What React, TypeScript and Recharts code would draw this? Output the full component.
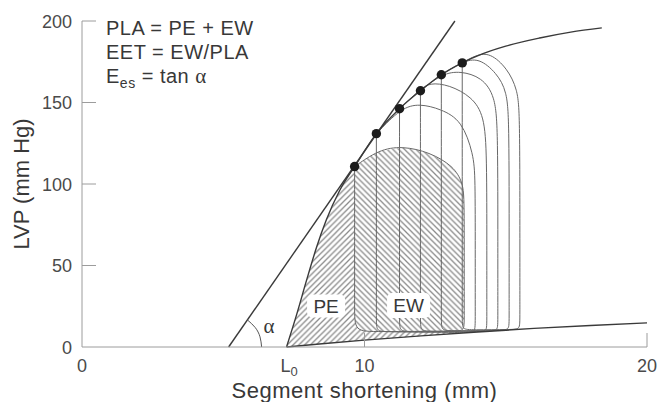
import React from 'react';
import { ComposedChart, Line, Area, Scatter, XAxis, YAxis, ReferenceDot } from 'recharts';

const SANS = '"Liberation Sans", Arial, Helvetica, sans-serif';
const SERIF = '"Liberation Serif", "Times New Roman", serif';
const AXIS_COLOR = '#9c9c9c';
const TICK_COLOR = '#4a4a4a';
const TEXT_COLOR = '#383838';
const CURVE_COLOR = '#3a3a3a';
const LOOP_COLOR = '#686868';
const HATCH_COLOR = '#8a8a8a';
const HATCH_STEP = 5.8;

// axis ticks
const L0 = 7.24;
const X_TICKS = [0, L0, 10, 20];
const Y_TICKS = [0, 50, 100, 150, 200];

// straight end-systolic line, slope = Ees
const ES_LINE_X = [5.19, 13.2];
const ES_LINE_Y = [0, 200];

// end-systolic pressure-length curve, starting at L0
const ES_CURVE_X = [7.24, 7.6, 7.95, 8.3, 8.65, 9.12, 9.65, 10.42, 11.24, 11.98, 12.72, 13.46, 14.17, 15.0, 16.2, 17.3, 18.4];
const ES_CURVE_Y = [0, 20, 41, 61, 78, 96, 110.7, 130.9, 146.2, 157.2, 167, 174.3, 179.8, 184.6, 189.6, 193.2, 195.8];

// end-diastolic pressure-length curve
const ED_CURVE_X = [7.24, 8.5, 10, 12, 14, 16, 18, 20];
const ED_CURVE_Y = [0, 2, 4.2, 6.8, 9.2, 11.4, 13.2, 14.8];

// end-systolic points of the six loops
const END_SYS_X = [9.65, 10.42, 11.24, 11.98, 12.72, 13.46];
const END_SYS_Y = [110.7, 130.9, 146.2, 157.2, 167, 174.3];

// pressure-length loops, traced from the end-systolic point:
// relaxation, filling, isovolumic contraction, ejection
const LOOP_1: [number, number][] = [
  [9.65, 110.7], [9.65, 60], [9.65, 22], [9.65, 9.6], [10.35, 9.4], [13.2, 9.7], [13.53, 9.9], [13.53, 16],
  [13.53, 60], [13.53, 92], [13.47, 101], [13.15, 111], [12.3, 119.5], [11.34, 123.3], [10.5, 121], [9.65, 110.7],
];
const LOOP_2: [number, number][] = [
  [10.42, 130.9], [10.42, 60], [10.42, 16], [10.42, 9.8], [10.75, 9.2], [13.62, 8.9], [13.92, 9.2], [13.92, 15],
  [13.92, 60], [13.92, 104], [13.86, 118], [13.45, 139], [12.7, 146], [11.95, 149.3], [11.3, 146.8], [10.42, 130.9],
];
const LOOP_3: [number, number][] = [
  [11.24, 146.2], [11.24, 60], [11.24, 16], [11.24, 9.8], [11.57, 9.3], [14.05, 9.4], [14.33, 9.6], [14.33, 15],
  [14.33, 60], [14.33, 118], [14.24, 142], [13.8, 153.5], [13.0, 160.8], [12.3, 162.2], [11.95, 157.8], [11.24, 146.2],
];
const LOOP_4: [number, number][] = [
  [11.98, 157.2], [11.98, 60], [11.98, 16], [11.98, 9.9], [12.31, 9.5], [14.44, 9.8], [14.72, 10.1], [14.72, 15.5],
  [14.72, 60], [14.72, 132], [14.63, 154], [14.15, 165.5], [13.4, 169.3], [12.75, 167.8], [11.98, 157.2],
];
const LOOP_5: [number, number][] = [
  [12.72, 167], [12.72, 60], [12.72, 16], [12.72, 10.2], [13.05, 9.9], [14.84, 10.3], [15.12, 10.6], [15.12, 16],
  [15.12, 60], [15.12, 138], [15.04, 157], [14.68, 168], [14.05, 177.5], [13.45, 175], [12.72, 167],
];
const LOOP_6: [number, number][] = [
  [13.46, 174.3], [13.46, 60], [13.46, 16], [13.46, 10.8], [13.79, 10.5], [15.22, 10.7], [15.5, 11], [15.5, 16.5],
  [15.5, 60], [15.5, 142], [15.42, 158], [15.05, 171], [14.45, 180.5], [13.95, 179.2], [13.46, 174.3],
];
const LOOPS = [LOOP_1, LOOP_2, LOOP_3, LOOP_4, LOOP_5, LOOP_6];

// EW: interior of the smallest loop (lower and upper bound)
const EW_X = [9.65, 9.665, 9.7, 9.77, 9.88, 10.06, 10.5, 10.71, 11.0, 11.36, 11.8, 12.28, 12.78, 13.06, 13.2, 13.35, 13.43, 13.475, 13.5, 13.52];
const EW_LOW = [26.3, 16.6, 13.6, 11.6, 10.4, 9.76, 9.55, 9.48, 9.48, 9.5, 9.55, 9.6, 9.68, 9.75, 9.9, 10.2, 10.6, 10.9, 12.5, 16];
const EW_HIGH = [110.7, 110.9, 111.3, 112.1, 113.4, 115.6, 119.7, 120.6, 121.5, 122.3, 121.2, 118.7, 114.3, 110.75, 108, 104, 101.2, 98.5, 94, 88.2];

// PE: between the end-diastolic curve and the end-systolic curve / relaxation edge
const PE_X = [7.24, 7.6, 7.95, 8.3, 8.65, 9.12, 9.65, 9.65, 9.665, 9.7, 9.77, 9.88, 10.06, 10.71, 12.78, 13.2, 13.4];
const PE_LOW = [0, 0.57, 1.13, 1.68, 2.22, 2.91, 3.69, 3.69, 3.71, 3.76, 3.85, 3.99, 4.23, 5.04, 7.73, 8.24, 8.48];
const PE_HIGH = [0, 20, 41, 61, 78, 96, 110.7, 26.3, 16.6, 13.6, 11.6, 10.4, 9.76, 9.48, 9.68, 9.9, 10.4];

// angle marker at the intercept of the straight line
const ARC_X = [5.86, 6.135, 6.301, 6.358];
const ARC_Y = [16.55, 11.87, 6.24, 0];

const toPoints = (xs: number[], ys: number[]) => xs.map((x, i) => ({ x, y: ys[i] }));
const toBand = (xs: number[], lo: number[], hi: number[]) => xs.map((x, i) => ({ x, band: [lo[i], hi[i]] }));
const pairsToPoints = (pts: [number, number][]) => pts.map(([x, y]) => ({ x, y }));

const esLine = toPoints(ES_LINE_X, ES_LINE_Y);
const esCurve = toPoints(ES_CURVE_X, ES_CURVE_Y);
const edCurve = toPoints(ED_CURVE_X, ED_CURVE_Y);
const endSys = toPoints(END_SYS_X, END_SYS_Y);
const arc = toPoints(ARC_X, ARC_Y);
const ewBand = toBand(EW_X, EW_LOW, EW_HIGH);
const peBand = toBand(PE_X, PE_LOW, PE_HIGH);

const renderXTick = (props: any) => {
  const { x, y, payload } = props;
  const v = payload.value;
  if (v === L0) {
    return (
      <text x={x - 6} y={y + 25} fontFamily={SANS} fontSize={18} fill={TICK_COLOR}>
        L<tspan dy={4} fontSize={13}>0</tspan>
      </text>
    );
  }
  return (
    <g>
      {(v === 10 || v === 20) && <line x1={x} x2={x} y1={y} y2={y - 14} stroke={AXIS_COLOR} strokeWidth={1} />}
      <text x={x} y={y + 25} textAnchor="middle" fontFamily={SANS} fontSize={18} fill={TICK_COLOR}>
        {v}
      </text>
    </g>
  );
};

const renderYTick = (props: any) => {
  const { x, y, payload } = props;
  const v = payload.value;
  return (
    <g>
      {v > 0 && <line x1={x} x2={x + 14} y1={y} y2={y} stroke={AXIS_COLOR} strokeWidth={1} />}
      <text x={x - 10} y={y + 6.5} textAnchor="end" fontFamily={SANS} fontSize={18} fill={TICK_COLOR}>
        {v}
      </text>
    </g>
  );
};

const renderXTitle = (props: any) => {
  const vb = props.viewBox || { x: 82, y: 347, width: 565, height: 30 };
  return (
    <text
      x={vb.x + vb.width / 2}
      y={vb.y + 51}
      textAnchor="middle"
      fontFamily={SANS}
      fontSize={22}
      letterSpacing={0.5}
      fill={TEXT_COLOR}
    >
      Segment shortening (mm)
    </text>
  );
};

const renderYTitle = (props: any) => {
  const vb = props.viewBox || { x: 0, y: 21, width: 82, height: 326 };
  const cx = vb.x + 29;
  const cy = vb.y + vb.height / 2;
  return (
    <text x={cx} y={cy} transform={`rotate(-90 ${cx} ${cy})`} textAnchor="middle" fontFamily={SANS} fontSize={22} fill={TEXT_COLOR}>
      LVP (mm Hg)
    </text>
  );
};

const Formulas = (props: any) => {
  const { cx, cy } = props;
  return (
    <g fontFamily={SANS} fontSize={20} letterSpacing={0.5} fill={TEXT_COLOR} style={{ whiteSpace: 'pre' }}>
      <text x={cx} y={cy}>PLA = PE + EW</text>
      <text x={cx} y={cy + 24}>EET = EW/PLA</text>
      <text x={cx} y={cy + 48}>
        E<tspan fontSize={14} dy={5}>es</tspan>
        <tspan dy={-5}>{' = tan '}</tspan>
        <tspan fontFamily={SERIF} fontSize={21}>α</tspan>
      </text>
    </g>
  );
};

const makeTag = (label: string, w: number, h: number) => (props: any) => {
  const { cx, cy } = props;
  return (
    <g>
      <rect x={cx - w / 2} y={cy - h / 2} width={w} height={h} rx={5} ry={5} fill="#ffffff" />
      <text x={cx} y={cy + 7} textAnchor="middle" fontFamily={SANS} fontSize={19} fill={TEXT_COLOR}>
        {label}
      </text>
    </g>
  );
};

const AlphaMark = (props: any) => (
  <text x={props.cx} y={props.cy + 7} textAnchor="middle" fontFamily={SERIF} fontSize={21} fill={TEXT_COLOR}>
    α
  </text>
);

const EndSysDot = (props: any) => <circle cx={props.cx} cy={props.cy} r={4.7} fill="#1c1c1c" />;

const s = HATCH_STEP;
// "/" strokes for PE, "\" strokes for EW, drawn diagonally inside each tile
const HATCH_UP = `M0,${s} L${s},0 M${-s / 2},${s / 2} L${s / 2},${-s / 2} M${s / 2},${1.5 * s} L${1.5 * s},${s / 2}`;
const HATCH_DOWN = `M0,0 L${s},${s} M${-s / 2},${s / 2} L${s / 2},${1.5 * s} M${s / 2},${-s / 2} L${1.5 * s},${s / 2}`;

export default function App() {
  return (
    <div style={{ position: 'absolute', left: 0, top: 0, width: 660, height: 402, background: '#ffffff' }}>
      <ComposedChart width={660} height={402} margin={{ top: 21, right: 13, bottom: 25, left: 0 }}>
        <defs>
          <pattern id="hatchPE" patternUnits="userSpaceOnUse" width={s} height={s}>
            <path d={HATCH_UP} stroke={HATCH_COLOR} strokeWidth={1.3} fill="none" />
          </pattern>
          <pattern id="hatchEW" patternUnits="userSpaceOnUse" width={s} height={s}>
            <path d={HATCH_DOWN} stroke={HATCH_COLOR} strokeWidth={1.3} fill="none" />
          </pattern>
        </defs>
        <XAxis
          type="number"
          dataKey="x"
          domain={[0, 20]}
          ticks={X_TICKS}
          interval={0}
          height={30}
          tickSize={0}
          tickMargin={0}
          tickLine={false}
          axisLine={{ stroke: AXIS_COLOR, strokeWidth: 1 }}
          tick={renderXTick}
          label={renderXTitle}
        />
        <YAxis
          type="number"
          dataKey="y"
          domain={[0, 200]}
          ticks={Y_TICKS}
          interval={0}
          width={82}
          tickSize={0}
          tickMargin={0}
          tickLine={false}
          axisLine={{ stroke: AXIS_COLOR, strokeWidth: 1 }}
          tick={renderYTick}
          label={renderYTitle}
        />
        <Area data={peBand} dataKey="band" type="linear" stroke="none" fill="url(#hatchPE)" fillOpacity={1} isAnimationActive={false} activeDot={false} />
        <Area data={ewBand} dataKey="band" type="linear" stroke="none" fill="url(#hatchEW)" fillOpacity={1} isAnimationActive={false} activeDot={false} />
        {LOOPS.map((loop, i) => (
          <Line
            key={`loop-${i}`}
            data={pairsToPoints(loop)}
            dataKey="y"
            type="basis"
            stroke={LOOP_COLOR}
            strokeWidth={1}
            dot={false}
            activeDot={false}
            isAnimationActive={false}
          />
        ))}
        <Line data={edCurve} dataKey="y" type="monotone" stroke={CURVE_COLOR} strokeWidth={1.4} dot={false} activeDot={false} isAnimationActive={false} />
        <Line data={esCurve} dataKey="y" type="monotone" stroke={CURVE_COLOR} strokeWidth={1.4} dot={false} activeDot={false} isAnimationActive={false} />
        <Line data={esLine} dataKey="y" type="linear" stroke={CURVE_COLOR} strokeWidth={1.4} dot={false} activeDot={false} isAnimationActive={false} />
        <Line data={arc} dataKey="y" type="natural" stroke="#555555" strokeWidth={1} dot={false} activeDot={false} isAnimationActive={false} />
        <Scatter data={endSys} dataKey="y" shape={EndSysDot} isAnimationActive={false} />
        <ReferenceDot x={8.64} y={25.2} r={0} shape={makeTag('PE', 38, 23)} zIndex={2100} />
        <ReferenceDot x={11.56} y={25.5} r={0} shape={makeTag('EW', 43, 25)} zIndex={2100} />
        <ReferenceDot x={6.62} y={12.9} r={0} shape={AlphaMark} zIndex={2100} />
        <ReferenceDot x={0.85} y={191.4} r={0} shape={Formulas} zIndex={2100} />
      </ComposedChart>
    </div>
  );
}
